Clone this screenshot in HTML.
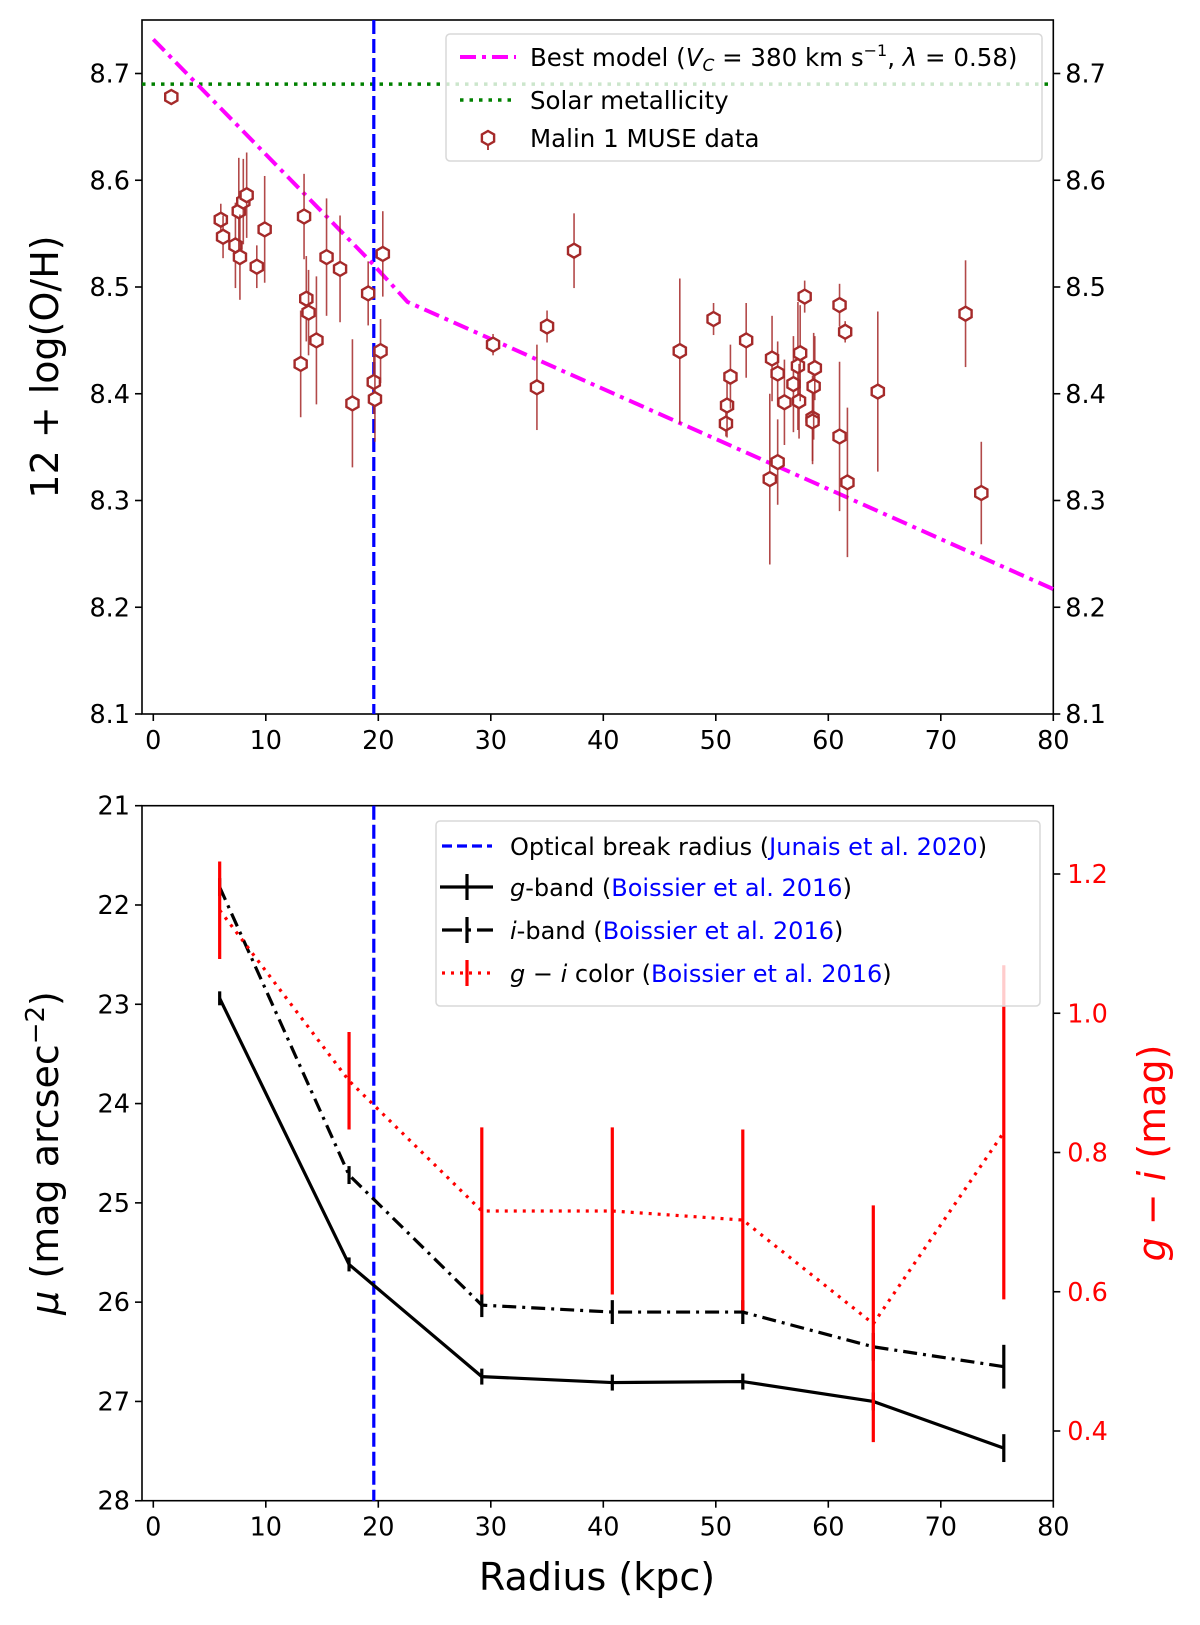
<!DOCTYPE html>
<html><head><meta charset="utf-8"><style>
body{margin:0;background:#fff;}
svg{display:block;font-family:"DejaVu Sans","Liberation Sans",sans-serif;}
</style></head><body>
<svg id="fig" width="1200" height="1625" viewBox="0 0 1200 1625" xmlns="http://www.w3.org/2000/svg">
<g id="topPanel"></g>
<g id="botPanel"></g>
</svg>
<script>
// ---- data: top panel ----
const ohRadius = [1.6,6.0,6.2,7.3,7.6,7.7,8.0,8.3,9.2,9.9,13.1,13.4,13.6,13.8,14.5,15.4,16.6,17.7,19.1,19.6,19.7,20.2,20.4,30.2,34.1,35.0,37.4,46.8,49.8,50.9,51.0,51.3,52.7,54.8,55.0,55.5,55.5,56.1,56.9,57.3,57.4,57.5,57.9,58.6,58.6,58.7,58.8,61.0,61.0,61.5,61.7,64.4,72.2,73.6];
const ohValue = [8.678,8.563,8.547,8.539,8.571,8.528,8.580,8.586,8.519,8.554,8.428,8.566,8.489,8.476,8.450,8.528,8.517,8.391,8.494,8.411,8.395,8.440,8.531,8.446,8.406,8.463,8.534,8.440,8.470,8.372,8.389,8.416,8.450,8.320,8.433,8.419,8.336,8.392,8.409,8.426,8.393,8.438,8.491,8.377,8.374,8.407,8.424,8.360,8.483,8.458,8.317,8.402,8.475,8.307];
const ohError = [0.005,0.015,0.02,0.04,0.05,0.04,0.04,0.04,0.02,0.05,0.05,0.04,0.04,0.04,0.06,0.055,0.05,0.06,0.03,0.03,0.04,0.03,0.04,0.01,0.04,0.015,0.035,0.068,0.015,0.012,0.03,0.03,0.035,0.08,0.04,0.03,0.04,0.04,0.045,0.06,0.035,0.045,0.015,0.04,0.04,0.05,0.03,0.07,0.02,0.01,0.07,0.075,0.05,0.048];
const modelRadius = [0,19.3,22.6,80];
const modelValue = [8.732,8.524,8.486,8.217];
const solarValue = 8.69;
const breakRadius = 19.6;
const topYTicks = [8.1,8.2,8.3,8.4,8.5,8.6,8.7];
const xTicks = [0,10,20,30,40,50,60,70,80];
// ---- data: bottom panel ----
const sbRadius = [5.9,17.4,29.2,40.8,52.4,64.0,75.6];
const gBand = [22.94,25.62,26.75,26.81,26.80,27.00,27.47];
const gErr = [0.03,0.03,0.04,0.04,0.04,0.05,0.1];
const iBand = [21.82,24.72,26.03,26.10,26.10,26.45,26.65];
const iErr = [0.05,0.05,0.08,0.08,0.08,0.1,0.18];
const giColor = [1.148,0.903,0.716,0.716,0.703,0.554,0.829];
const giErr = [0.07,0.07,0.12,0.12,0.13,0.17,0.24];
const botYTicks = [21,22,23,24,25,26,27,28];
const rightYTicks = [0.4,0.6,0.8,1.0,1.2];

const NS="http://www.w3.org/2000/svg";
function mk(parent,tag,attrs,text){const e=document.createElementNS(NS,tag);for(const k in attrs)e.setAttribute(k,attrs[k]);if(text!==undefined)e.textContent=text;parent.appendChild(e);return e;}
const L=142,R=1053.3;
const FS=25.5, LFS=24.5;
const X=v=>153.3+v*11.25;
const Yt=v=>714-(v-8.1)*1067.5;
const Yb=v=>805.7+(v-21)*99.29;
const Yr=v=>1431-(v-0.4)*696.25;
const topG=document.getElementById('topPanel'), botG=document.getElementById('botPanel');

function frame(g,y0,y1,name){
  const r=mk(g,'rect',{x:L,y:y0,width:R-L,height:y1-y0,fill:'none',stroke:'#000','stroke-width':1.6});
  
  
  xTicks.forEach(t=>{
    const l=mk(g,'line',{x1:X(t),x2:X(t),y1:y1,y2:y1+7,stroke:'#000','stroke-width':1.6});
    
    
    const tx=mk(g,'text',{x:X(t),y:y1+35,'text-anchor':'middle','font-size':FS},t);
    
    
  });
}
// ---------- TOP ----------
frame(topG,20,714,'top-axes-frame');
topYTicks.forEach(t=>{
  const y=Yt(t);
  mk(topG,'line',{x1:L-7,x2:L,y1:y,y2:y,stroke:'#000','stroke-width':1.6});
  mk(topG,'line',{x1:R,x2:R+7,y1:y,y2:y,stroke:'#000','stroke-width':1.6});
  const a=mk(topG,'text',{x:L-12,y:y+9,'text-anchor':'end','font-size':FS},t.toFixed(1));
  
  
  const b=mk(topG,'text',{x:R+12,y:y+9,'font-size':FS},t.toFixed(1));
  
  
});
const yl=mk(topG,'text',{x:0,y:0,'font-size':38,'text-anchor':'middle',transform:`translate(58,367) rotate(-90)`},'12 + log(O/H)');


const sol=mk(topG,'line',{x1:L,x2:R,y1:Yt(solarValue),y2:Yt(solarValue),stroke:'#008000','stroke-width':3.5,'stroke-dasharray':'3.5 6'});


const bl1=mk(topG,'line',{x1:X(breakRadius),x2:X(breakRadius),y1:20,y2:714,stroke:'#0000ff','stroke-width':3.2,'stroke-dasharray':'14 5'});


const mp=mk(topG,'polyline',{points:modelRadius.map((r,i)=>X(r)+','+Yt(modelValue[i])).join(' '),fill:'none',stroke:'#ff00ff','stroke-width':4,'stroke-dasharray':'16 6 4 6'});


function hexPts(cx,cy,r){let p=[];for(let k=0;k<6;k++){const a=Math.PI/180*(60*k-90);p.push((cx+r*Math.cos(a)).toFixed(1)+','+(cy+r*Math.sin(a)).toFixed(1));}return p.join(' ');}
ohRadius.forEach((r,i)=>{
  const cx=X(r),cy=Yt(ohValue[i]);
  const e=mk(topG,'line',{x1:cx,x2:cx,y1:Yt(ohValue[i]+ohError[i]),y2:Yt(ohValue[i]-ohError[i]),stroke:'#a52a2a','stroke-width':1.6,opacity:0.85});
  
  
  const h=mk(topG,'polygon',{points:hexPts(cx,cy,7),fill:'#fff',stroke:'#a52a2a','stroke-width':2.4});
  
  
});
// top legend
const lg=mk(topG,'g',{});


mk(lg,'rect',{x:446,y:34,width:596,height:127,rx:4,fill:'#fff','fill-opacity':0.8,stroke:'#d8d8d8','stroke-width':1.5});
mk(lg,'line',{x1:460,x2:516,y1:57,y2:57,stroke:'#ff00ff','stroke-width':4,'stroke-dasharray':'16 6 4 6'});
mk(lg,'text',{x:530,y:66,'font-size':LFS},'').innerHTML='Best model (<tspan font-style="italic">V</tspan><tspan font-style="italic" font-size="17" dy="5">C</tspan><tspan dy="-5"> = 380 km s</tspan><tspan font-size="16" dy="-10">−1</tspan><tspan dy="10">, </tspan><tspan font-style="italic">λ</tspan> = 0.58)';
mk(lg,'line',{x1:460,x2:516,y1:100,y2:100,stroke:'#008000','stroke-width':3.5,'stroke-dasharray':'3.5 6'});
mk(lg,'text',{x:530,y:109,'font-size':LFS},'Solar metallicity');
mk(lg,'line',{x1:488,x2:488,y1:130,y2:150,stroke:'#a52a2a','stroke-width':1.8});
mk(lg,'polygon',{points:hexPts(488,138,7),fill:'#fff',stroke:'#a52a2a','stroke-width':2.4});
mk(lg,'text',{x:530,y:147,'font-size':LFS},'Malin 1 MUSE data');

// ---------- BOTTOM ----------
frame(botG,805.7,1500.7,'bottom-axes-frame');
botYTicks.forEach(t=>{
  const y=Yb(t);
  mk(botG,'line',{x1:L-7,x2:L,y1:y,y2:y,stroke:'#000','stroke-width':1.6});
  const a=mk(botG,'text',{x:L-12,y:y+9,'text-anchor':'end','font-size':FS},t);
  
  
});
rightYTicks.forEach(t=>{
  const y=Yr(t);
  mk(botG,'line',{x1:R,x2:R+7,y1:y,y2:y,stroke:'#000','stroke-width':1.6});
  const a=mk(botG,'text',{x:R+14,y:y+9,'font-size':FS,fill:'#ff0000'},t.toFixed(1));
  
  
});
const yl2=mk(botG,'text',{x:0,y:0,'font-size':38,'text-anchor':'middle',transform:`translate(58,1153) rotate(-90)`},'');
yl2.innerHTML='<tspan font-style="italic">μ</tspan> (mag arcsec<tspan font-size="26" dy="-14">−2</tspan><tspan dy="14">)</tspan>';


const yr2=mk(botG,'text',{x:0,y:0,'font-size':38,'text-anchor':'middle',fill:'#ff0000',transform:`translate(1165,1153) rotate(-90)`},'');
yr2.innerHTML='<tspan font-style="italic">g</tspan> − <tspan font-style="italic">i</tspan> (mag)';


const xl=mk(botG,'text',{x:597,y:1590,'font-size':38,'text-anchor':'middle'},'Radius (kpc)');


const bl2=mk(botG,'line',{x1:X(breakRadius),x2:X(breakRadius),y1:805.7,y2:1500.7,stroke:'#0000ff','stroke-width':3.2,'stroke-dasharray':'14 5'});


function series(vals,errs,Y,color,dash,name,cap){
  const p=mk(botG,'polyline',{points:sbRadius.map((r,i)=>X(r)+','+Y(vals[i])).join(' '),fill:'none',stroke:color,'stroke-width':3.2,'stroke-dasharray':dash});
  
  
  sbRadius.forEach((r,i)=>{
    const e=mk(botG,'line',{x1:X(r),x2:X(r),y1:Y(vals[i]-errs[i])-cap,y2:Y(vals[i]+errs[i])+cap,stroke:color,'stroke-width':3.2});
    
    
  });
}
series(gBand,gErr,Yb,'#000','none','g-band',4);
series(iBand,iErr,Yb,'#000','14 6 3 6','i-band',4);
series(giColor,giErr,Yr,'#ff0000','3 6','gi-color',0);
// bottom legend
const lg2=mk(botG,'g',{});


mk(lg2,'rect',{x:436,y:821,width:604,height:185,rx:4,fill:'#fff','fill-opacity':0.8,stroke:'#d8d8d8','stroke-width':1.5});
mk(lg2,'line',{x1:442,x2:492,y1:846,y2:846,stroke:'#0000ff','stroke-width':3.2,'stroke-dasharray':'10 5'});
mk(lg2,'text',{x:510,y:855,'font-size':24},'').innerHTML='Optical break radius (<tspan fill="#0000ff">Junais et al. 2020</tspan>)';
mk(lg2,'line',{x1:440,x2:493,y1:887,y2:887,stroke:'#000','stroke-width':3.2});
mk(lg2,'line',{x1:467,x2:467,y1:874,y2:900,stroke:'#000','stroke-width':3.2});
mk(lg2,'text',{x:510,y:896,'font-size':24},'').innerHTML='<tspan font-style="italic">g</tspan>-band (<tspan fill="#0000ff">Boissier et al. 2016</tspan>)';
mk(lg2,'line',{x1:442,x2:493,y1:930,y2:930,stroke:'#000','stroke-width':3.2,'stroke-dasharray':'20 6 3 6'});
mk(lg2,'line',{x1:467,x2:467,y1:917,y2:943,stroke:'#000','stroke-width':3.2});
mk(lg2,'text',{x:510,y:939,'font-size':24},'').innerHTML='<tspan font-style="italic">i</tspan>-band (<tspan fill="#0000ff">Boissier et al. 2016</tspan>)';
mk(lg2,'line',{x1:442,x2:493,y1:973,y2:973,stroke:'#ff0000','stroke-width':3.2,'stroke-dasharray':'3 6'});
mk(lg2,'line',{x1:467,x2:467,y1:960,y2:986,stroke:'#ff0000','stroke-width':3.2});
mk(lg2,'text',{x:510,y:982,'font-size':24},'').innerHTML='<tspan font-style="italic">g</tspan> − <tspan font-style="italic">i</tspan> color (<tspan fill="#0000ff">Boissier et al. 2016</tspan>)';
</script>
</body></html>
